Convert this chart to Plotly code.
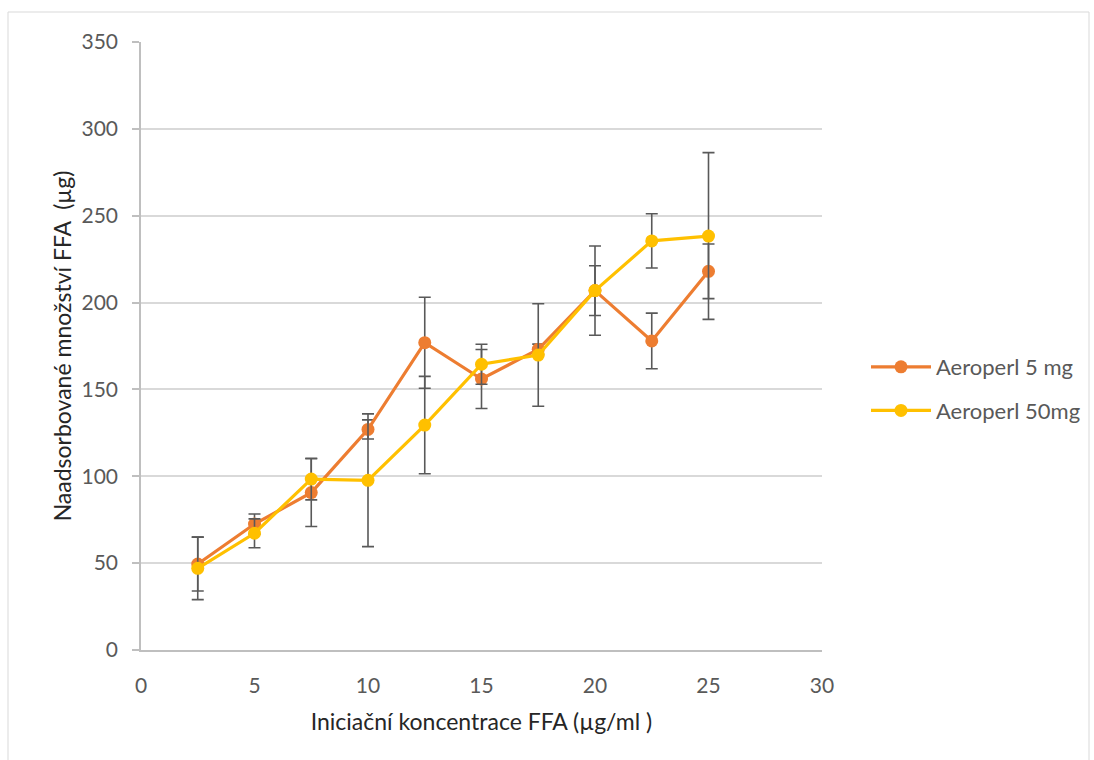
import plotly.graph_objects as go

# Initial FFA concentration (µg/ml)
conc = [2.5, 5, 7.5, 10, 12.5, 15, 17.5, 20, 22.5, 25]

# Adsorbed amount of FFA (µg) and standard deviations
ads_5mg = [49.5, 72.5, 90.6, 127.0, 176.9, 156.0, 173.1, 206.9, 177.9, 218.0]
err_5mg = [15.5, 5.8, 19.5, 5.5, 26.2, 17.0, 3.0, 14.3, 16.0, 15.7]

ads_50mg = [47.0, 67.2, 98.4, 97.7, 129.5, 164.5, 169.8, 206.9, 235.5, 238.3]
err_50mg = [18.0, 8.3, 12.0, 38.2, 28.0, 11.5, 29.5, 25.7, 15.6, 48.0]

series_names = ["Aeroperl 5 mg", "Aeroperl 50mg"]
series_colors = ["#ED7D31", "#FFC000"]

FONT = "Lato, Calibri, Carlito, sans-serif"
TXT = "#595959"
TITLE_TXT = "#262626"

fig = go.Figure()
for i, (name, ys, errs, col) in enumerate([
    (series_names[0], ads_5mg, err_5mg, series_colors[0]),
    (series_names[1], ads_50mg, err_50mg, series_colors[1]),
]):
    fig.add_trace(go.Scatter(
        x=conc, y=ys, name=name, mode="lines+markers",
        legendgroup=f"g{i}",
        line=dict(color=col, width=3.2),
        marker=dict(color=col, size=13),
        error_y=dict(type="data", array=errs, visible=True,
                     color="#595959", thickness=1.6, width=6),
    ))

# plot area: x 141..822, y 42..650 (px)
L, R, T, B = 141, 822, 42, 650
W, H = 1094, 760
pw, ph = R - L, B - T

def px(xp):
    return (xp - L) / pw

def py(yp):
    return (B - yp) / ph

# outer chart border
fig.add_shape(type="rect", xref="paper", yref="paper",
              x0=px(8), x1=px(1089), y0=py(772), y1=py(12),
              line=dict(color="#D9D9D9", width=1), fillcolor="rgba(0,0,0,0)",
              layer="below")

fig.update_layout(
    width=W, height=H,
    margin=dict(l=L, r=W - R, t=T, b=H - B, pad=0, autoexpand=False),
    paper_bgcolor="white", plot_bgcolor="white",
    font=dict(family=FONT, color=TXT, size=21),
    showlegend=True,
    legend=dict(x=px(866), y=py(346), xanchor="left", yanchor="top",
                font=dict(size=22, color=TXT, family=FONT),
                itemwidth=60, tracegroupgap=12, bgcolor="rgba(0,0,0,0)"),
    xaxis=dict(
        range=[0, 30], dtick=5, tick0=0,
        showgrid=False, zeroline=False, automargin=False,
        showline=True, linecolor="#BFBFBF", linewidth=1.5,
        ticks="", tickfont=dict(size=21, color=TXT), ticklabelstandoff=16,
        title=dict(text="Iniciační koncentrace FFA (µg/ml )",
                   font=dict(size=23, color=TITLE_TXT), standoff=18),
    ),
    yaxis=dict(
        range=[0, 350], dtick=50, tick0=0,
        showgrid=True, gridcolor="#D9D9D9", gridwidth=1.5, zeroline=False,
        automargin=False,
        showline=True, linecolor="#BFBFBF", linewidth=1.5,
        ticks="outside", ticklen=7, tickcolor="#BFBFBF", tickwidth=1.5,
        tickfont=dict(size=21, color=TXT), ticklabelstandoff=10,
        title=dict(text="Naadsorbované množství FFA  (µg)",
                   font=dict(size=23, color=TITLE_TXT), standoff=3),
    ),
)

fig.write_html("out.html")
